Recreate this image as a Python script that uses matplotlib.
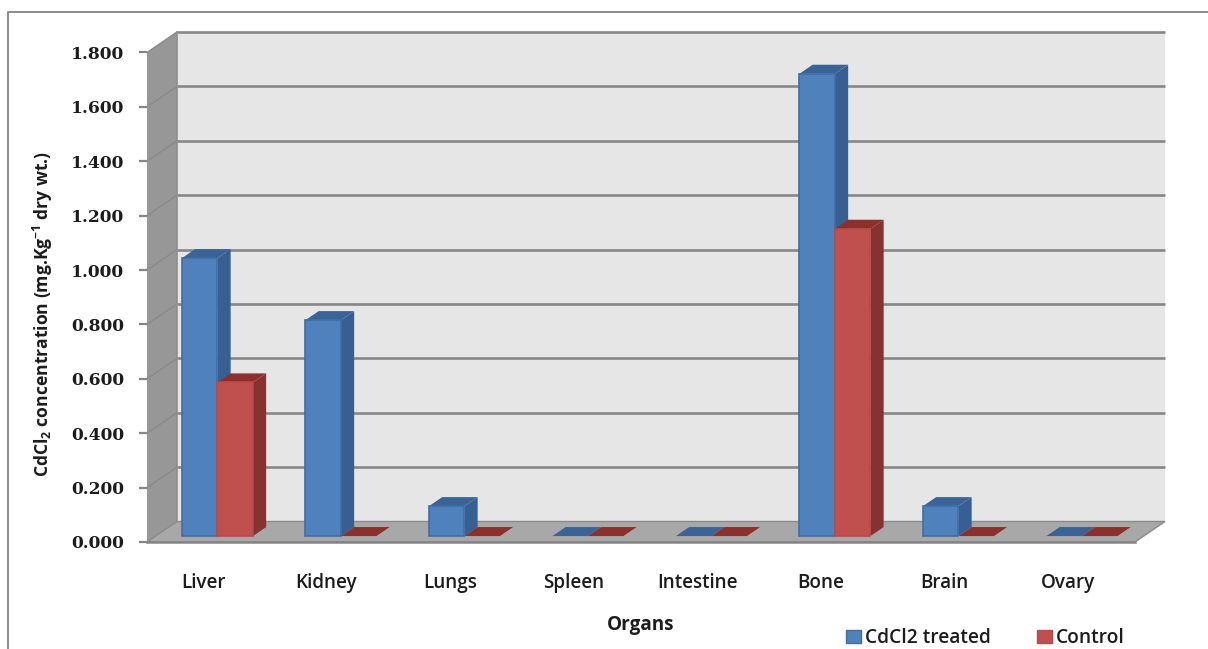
import matplotlib
matplotlib.use("Agg")
import matplotlib.pyplot as plt
from matplotlib.patches import Polygon, Patch
from matplotlib.lines import Line2D
from matplotlib.transforms import ScaledTranslation

organs = ["Liver", "Kidney", "Lungs", "Spleen", "Intestine", "Bone", "Brain", "Ovary"]
treated = [1.022, 0.794, 0.110, 0.0, 0.0, 1.700, 0.110, 0.0]
control = [0.565, 0.0, 0.0, 0.0, 0.0, 1.130, 0.0, 0.0]
yticks = [0.0, 0.2, 0.4, 0.6, 0.8, 1.0, 1.2, 1.4, 1.6, 1.8]
series_names = ["CdCl2 treated", "Control"]

W, H = 1208, 649
plt.rcParams["mathtext.fontset"] = "custom"
plt.rcParams["mathtext.bf"] = "Open Sans:bold"
plt.rcParams["mathtext.rm"] = "Open Sans"

fig = plt.figure(figsize=(W / 100, H / 100), dpi=100, facecolor="white")
ax = fig.add_axes([147 / W, (H - 542) / H, 988 / W, 489.5 / H])
ax.set_xlim(-0.5, 7.5)
ax.set_ylim(0, 1.8)
ax.patch.set_visible(False)

# oblique projection: depth 1 = back wall
DX = 30 / 123.5
DY = 20.5 / 272


def P(x, y, d=0.0):
    return (x + DX * d, y + DY * d)


def poly(pts, fc, ec=None, lw=0.0, z=1):
    ax.add_patch(Polygon(pts, closed=True, facecolor=fc, edgecolor=ec if ec else fc,
                         linewidth=lw, zorder=z, clip_on=False, joinstyle="miter"))


GRID = "#878787"
x0, x1 = -0.5, 7.5
ymax = yticks[-1]
# back wall, side wall, floor
poly([P(x0, 0, 1), P(x1, 0, 1), P(x1, ymax, 1), P(x0, ymax, 1)], "#E6E6E6", z=1)
poly([P(x0, 0, 0), P(x0, 0, 1), P(x0, ymax, 1), P(x0, ymax, 0)], "#979797", z=1.1)
poly([P(x0, 0, 0), P(x1, 0, 0), P(x1, 0, 1), P(x0, 0, 1)], "#A8A8A8", "#8A8A8A", 1.0, z=1.2)

# gridlines on back wall and side wall
for v in yticks[1:]:
    ax.plot(*zip(P(x0, v, 1), P(x1, v, 1)), color=GRID, lw=1.9, zorder=1.3, clip_on=False,
            solid_capstyle="butt")
    ax.plot(*zip(P(x0, v, 0), P(x0, v, 1)), color="#8A8A8A", lw=1.0, zorder=1.3, clip_on=False)
ax.plot(*zip(P(x0, 0, 1), P(x0, ymax, 1)), color="#8E8E8E", lw=1.2, zorder=1.3, clip_on=False)

# bars
BW = 35.5 / 123.5
D0, D1 = 0.29, 0.73
BLUE = dict(front="#4F81BD", side="#375F91", top="#3A6397", edge="#3F6EA6")
RED = dict(front="#C0504D", side="#853230", top="#8F2F2C", edge="#B84A47")


def bar3d(x, w, v, c, z):
    a, b = x, x + w
    if v > 0:
        poly([P(b, 0, D0), P(b, 0, D1), P(b, v, D1), P(b, v, D0)], c["side"], z=z)
    poly([P(a, v, D0), P(b, v, D0), P(b, v, D1), P(a, v, D1)], c["top"], z=z + 0.01)
    if v > 0:
        poly([P(a, 0, D0), P(b, 0, D0), P(b, v, D0), P(a, v, D0)], c["front"], c["edge"], 1.2, z=z + 0.02)


for i, (t, k) in enumerate(zip(treated, control)):
    bar3d(i - BW, BW, t, BLUE, 2 + i * 0.1)
    bar3d(i, BW, k, RED, 2.05 + i * 0.1)

# axes furniture
for s in ["top", "right", "left"]:
    ax.spines[s].set_visible(False)
ax.spines["bottom"].set_color("#858585")
ax.spines["bottom"].set_linewidth(1.8)
ax.spines["bottom"].set_zorder(1.5)
ax.set_yticks(yticks, [f"{v:.3f}" for v in yticks], fontfamily="DejaVu Serif",
              fontweight="bold", fontsize=12.3, color="#1c1c1c")
ax.tick_params(axis="y", length=5.5, width=1.6, color="#858585", pad=11)
ax.set_xticks(range(len(organs)), organs, fontfamily="Open Sans", fontweight="semibold",
              fontsize=13.6, color="#1c1c1c")
ax.tick_params(axis="x", length=0, pad=22)
shift = ScaledTranslation(-5.7 / 100, 0, fig.dpi_scale_trans)
for lab in ax.get_xticklabels():
    lab.set_transform(lab.get_transform() + shift)

fig.text(641 / W, 1 - 625 / H, "Organs", ha="center", va="center", family="Open Sans",
         fontweight="bold", fontsize=13.6, color="#1c1c1c")
fig.text(43 / W, 1 - 313.5 / H, r"CdCl$\mathbf{_2}$ concentration (mg.Kg$\mathbf{^{-1}}$ dry wt.)",
         rotation=90, ha="center", va="center", family="Open Sans", fontweight="bold",
         fontsize=12.6, color="#1c1c1c")

handles = [Patch(facecolor=BLUE["front"], edgecolor=BLUE["edge"], linewidth=1),
           Patch(facecolor=RED["front"], edgecolor=RED["edge"], linewidth=1)]
fig.legend(handles, series_names, loc="center left", bbox_to_anchor=(846 / W, 1 - 638 / H),
           ncol=2, frameon=False, handlelength=0.78, handleheight=0.68, handletextpad=0.22,
           columnspacing=2.4, borderpad=0, borderaxespad=0,
           prop=dict(family="Open Sans", weight="semibold", size=13.8), labelcolor="#1c1c1c")

# outer chart frame
fig.add_artist(Line2D([8 / W, 8 / W, 1], [0, 1 - 12 / H, 1 - 12 / H], color="#8C8C8C", lw=1.4))

fig.savefig("out.png", dpi=100, facecolor="white")
